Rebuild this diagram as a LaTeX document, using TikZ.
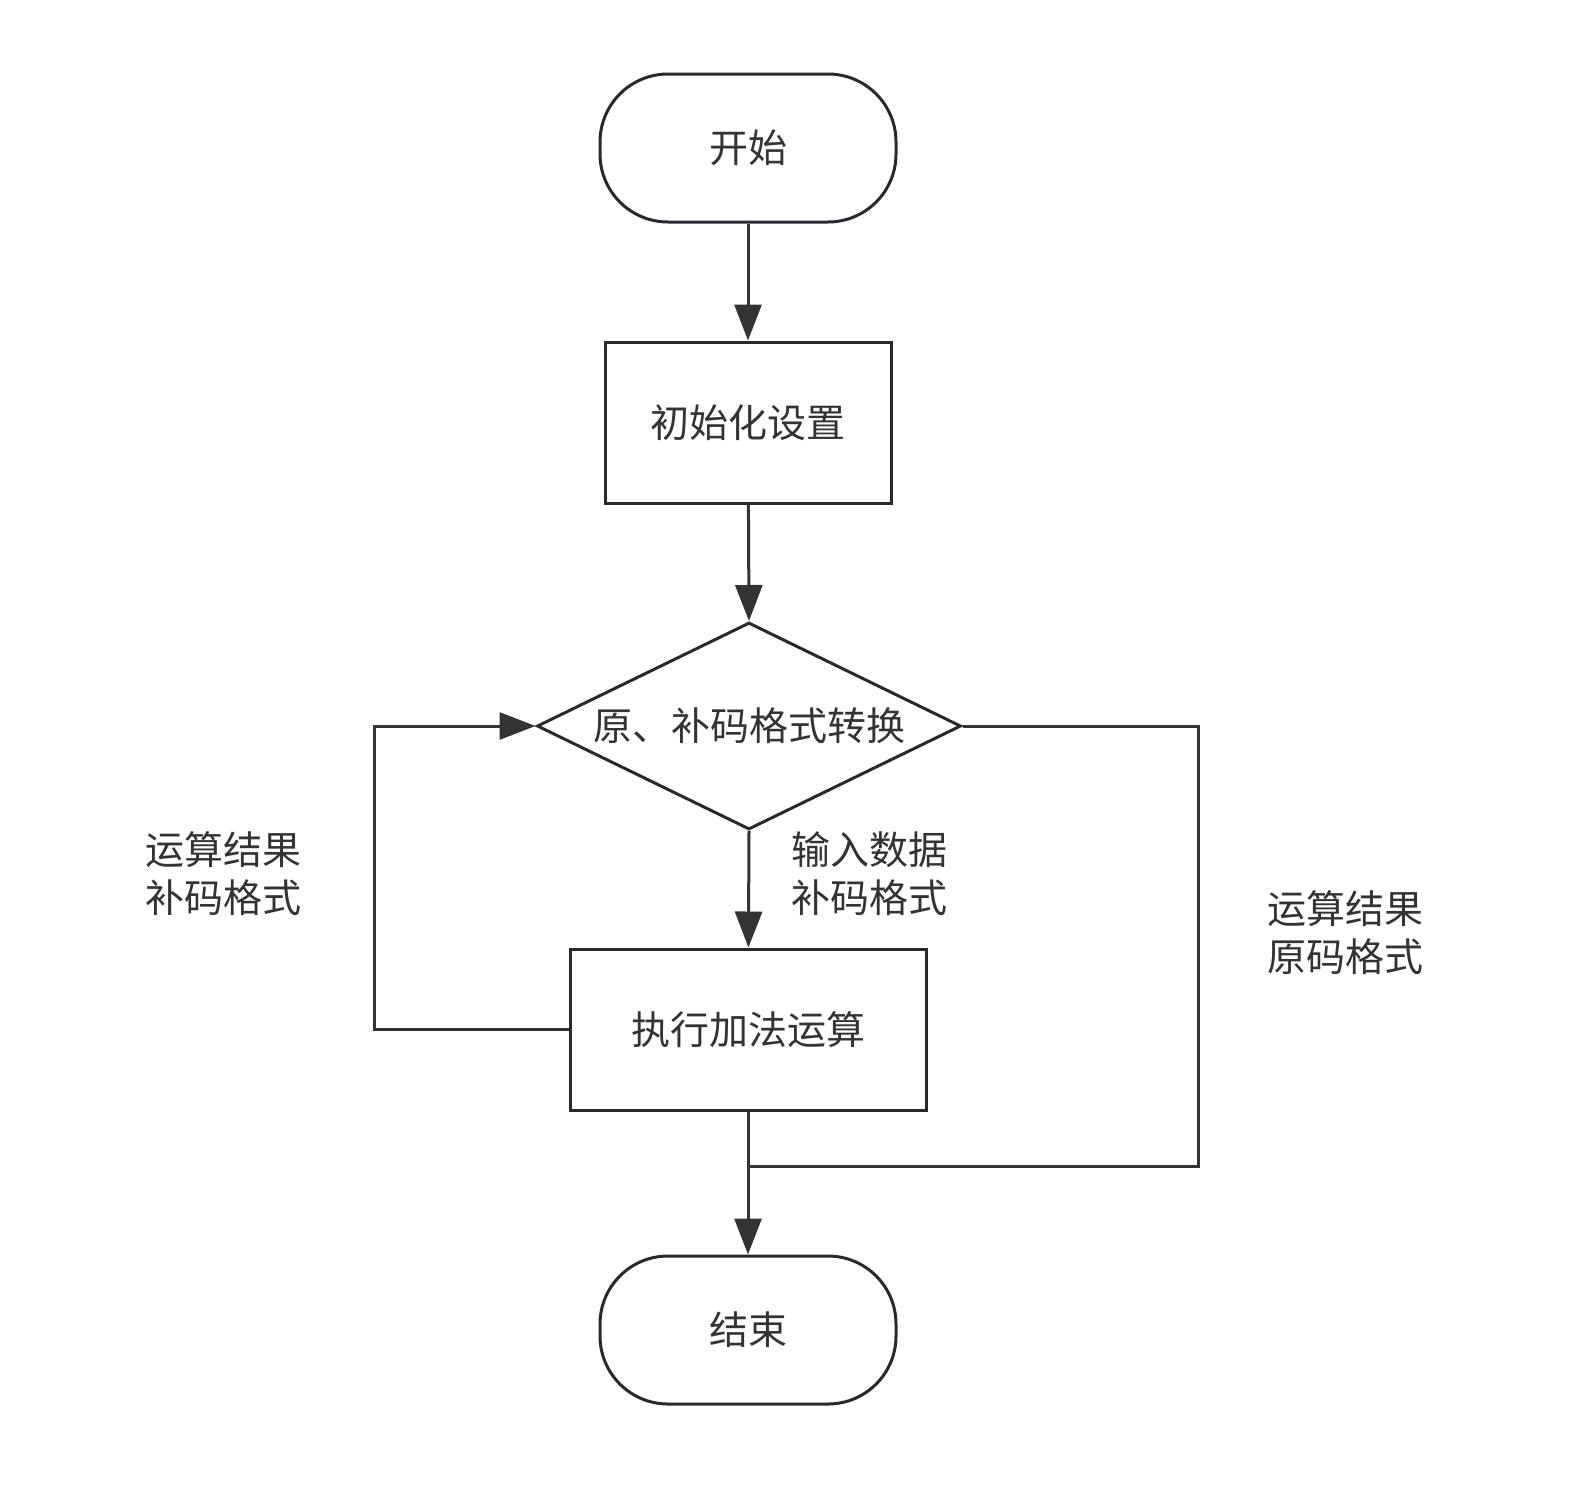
\documentclass[tikz,border=0pt]{standalone}
\usepackage{fontspec}
\newfontfamily\cjk{Noto Sans CJK SC}
\usetikzlibrary{arrows.meta,shapes.geometric}
\definecolor{ln}{HTML}{262A2E}
\definecolor{ar}{HTML}{333333}
\definecolor{tx}{HTML}{333333}
\tikzset{
  base/.style={draw=ln,line width=3pt,text=tx,font=\cjk\fontsize{39}{46}\selectfont,inner sep=0pt},
  term/.style={base,rounded corners=68pt,minimum width=296pt,minimum height=148pt},
  proc/.style={base,rectangle},
  dec/.style={base,diamond,aspect=2.05,minimum width=424pt,minimum height=207pt},
  conn/.style={draw=ar,line width=3pt,-{Triangle[length=36pt,width=27pt]}},
  plain/.style={draw=ar,line width=3pt},
  lbl/.style={text=tx,font=\cjk\fontsize{39}{48}\selectfont,align=left,inner sep=0pt}
}
\begin{document}
\begin{tikzpicture}[x=1pt,y=-1pt]
\useasboundingbox (0,0) rectangle (1581,1491);
\node[term] (start) at (748,148) {开始};
\node[proc,minimum width=286pt,minimum height=161pt] (init) at (748,422.5) {初始化设置};
\node[dec] (conv) at (749,726) {原、补码格式转换};
\node[proc,minimum width=356pt,minimum height=161pt] (exec) at (748,1029.5) {执行加法运算};
\node[term] (end) at (748,1330) {结束};
\coordinate (j) at (748,1166);
\coordinate (ll) at (374,1029.5);
\coordinate (lu) at (374,726);
\coordinate (ru) at (1198,726);
\coordinate (rd) at (1198,1166);
\draw[conn] (start) -- (init);
\draw[conn] (init) -- (conv.north);
\draw[conn] (conv.south) -- (exec);
\draw[conn] (exec) -- (end);
\draw[conn] (exec.west) -- (ll) -- (lu) -- (conv.west);
\draw[plain] (conv.east) -- (ru) -- (rd) -- (j);
\node[lbl] (l1) at (223,874) {运算结果\\补码格式};
\node[lbl] (l2) at (869,874) {输入数据\\补码格式};
\node[lbl] (l3) at (1345,933) {运算结果\\原码格式};
\end{tikzpicture}
\end{document}
